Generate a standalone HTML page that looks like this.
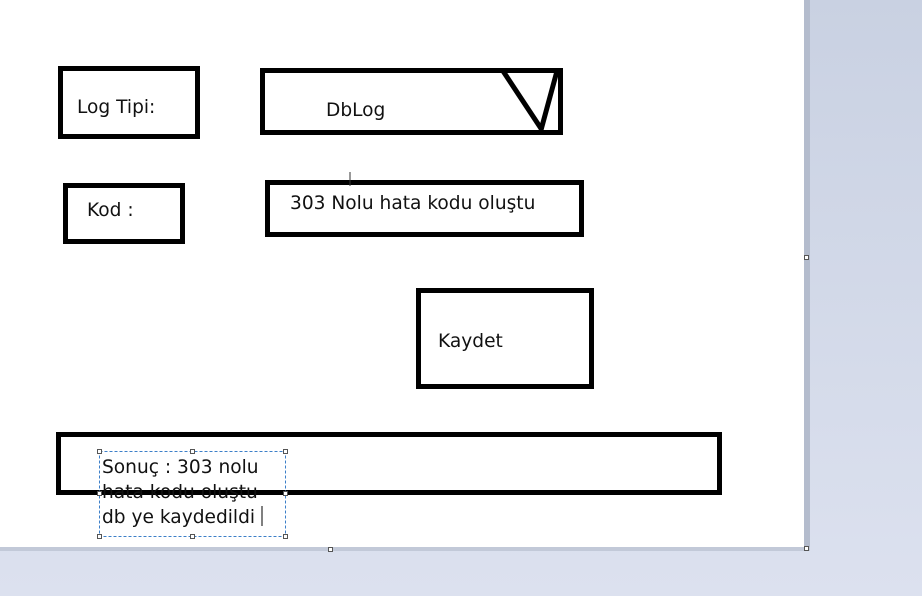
<!DOCTYPE html>
<html><head><meta charset="utf-8"><style>
html,body{margin:0;padding:0;width:922px;height:596px;overflow:hidden;background:linear-gradient(#c9d1e2,#dce1ef);}
svg{position:absolute;left:0;top:0}
text{font-family:"DejaVu Sans","Liberation Sans",sans-serif;font-size:18.6px;fill:#111}
</style></head><body>
<svg width="922" height="596" viewBox="0 0 922 596">
<rect x="804" y="0" width="6" height="550" fill="#b4bccd"/>
<rect x="0" y="547" width="810" height="4" fill="#c2c9d8"/>
<rect x="0" y="0" width="804" height="547" fill="#fff"/>
<g fill="none" stroke="#000" stroke-width="5">
<rect x="60.5" y="68.5" width="137" height="68"/>
<rect x="262.5" y="70.5" width="298" height="62"/>
<line x1="503" y1="71" x2="542" y2="130"/>
<line x1="557" y1="71" x2="541" y2="130"/>
<rect x="65.5" y="185.5" width="117" height="56"/>
<rect x="267.5" y="182.5" width="314" height="52"/>
<rect x="418.5" y="290.5" width="173" height="96"/>
<rect x="58.5" y="434.5" width="661" height="58"/>
</g>
<text x="77" y="113">Log Tipi:</text>
<text x="326" y="116">DbLog</text>
<text x="87" y="216">Kod :</text>
<text x="290" y="209">303 Nolu hata kodu oluştu</text>
<text x="438" y="347">Kaydet</text>
<text x="102" y="473">Sonuç : 303 nolu</text>
<text x="102" y="498">hata kodu oluştu</text>
<text x="102" y="523">db ye kaydedildi</text>
<line x1="262" y1="506" x2="262" y2="526" stroke="#000" stroke-width="1"/>
<line x1="350" y1="172" x2="350" y2="186" stroke="#333" stroke-width="1"/>
<rect x="99.5" y="451.5" width="186" height="85" fill="none" stroke="#3c7fc8" stroke-width="1" stroke-dasharray="3,2"/>
<g fill="#fff" stroke="#555" stroke-width="1">
<rect x="97.5" y="449.5" width="4" height="4"/><rect x="190.5" y="449.5" width="4" height="4"/><rect x="283.5" y="449.5" width="4" height="4"/>
<rect x="97.5" y="491.5" width="4" height="4"/><rect x="283.5" y="491.5" width="4" height="4"/>
<rect x="97.5" y="534.5" width="4" height="4"/><rect x="190.5" y="534.5" width="4" height="4"/><rect x="283.5" y="534.5" width="4" height="4"/>
<rect x="804.5" y="255.5" width="4" height="4"/><rect x="804.5" y="546.5" width="4" height="4"/><rect x="328.5" y="547.5" width="4" height="4"/>
</g>
</svg>
</body></html>
